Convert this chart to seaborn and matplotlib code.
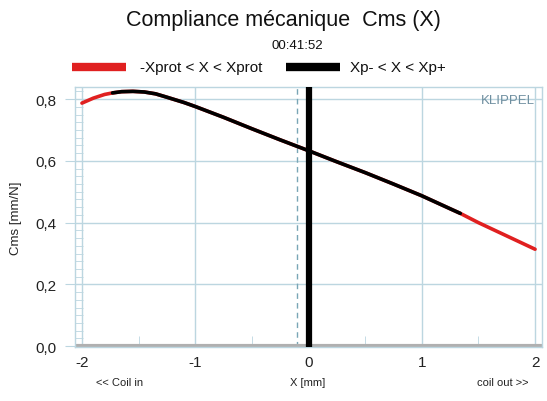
import matplotlib
matplotlib.use("Agg")
import matplotlib.pyplot as plt
import seaborn as sns
import pandas as pd
from matplotlib.ticker import MultipleLocator, FuncFormatter

sns.set_style("white")
plt.rcParams['font.family'] = ['Liberation Sans', 'DejaVu Sans']

# Data
x_vals = [-2.0, -1.9, -1.8, -1.73, -1.65, -1.55, -1.45, -1.35, -1.25, -1.1,
          -1.0, -0.75, -0.5, -0.25, 0.0, 0.25, 0.5, 0.75, 1.0, 1.25,
          1.34, 1.5, 1.75, 2.0]
cms_vals = [0.787, 0.803, 0.815, 0.820, 0.824, 0.825, 0.823, 0.817, 0.806, 0.789,
            0.776, 0.741, 0.704, 0.668, 0.633, 0.597, 0.562, 0.525, 0.487, 0.445,
            0.430, 0.400, 0.357, 0.314]
xp_minus = -1.73
xp_plus = 1.34
x_rest = -0.10
x_ticks = [-2, -1, 0, 1, 2]
y_ticks = [0.0, 0.2, 0.4, 0.6, 0.8]
legend_labels = ["-Xprot < X < Xprot", "Xp- < X < Xp+"]

df = pd.DataFrame({"x": x_vals, "cms": cms_vals})
dfb = df[(df.x >= xp_minus) & (df.x <= xp_plus)]

fig = plt.figure(figsize=(5.47, 4.02), dpi=100)
ax = fig.add_axes([0.137, 0.134, 0.854, 0.647])

grid_c = "#bcd6e0"
ax.set_xlim(-2.062, 2.062)
ax.set_ylim(-0.003, 0.839)
for t in x_ticks:
    ax.axvline(t, color=grid_c, lw=1.0, zorder=0)
for t in y_ticks[1:]:
    ax.axhline(t, color=grid_c, lw=1.0, zorder=0)

ax.axvline(x_rest, color="#79a6b6", lw=1.0, ls=(0, (4, 3)), zorder=1)

sns.lineplot(data=df, x="x", y="cms", ax=ax, color="#e02020", lw=2.6, zorder=3)
sns.lineplot(data=dfb, x="x", y="cms", ax=ax, color="black", lw=2.6, zorder=4)
ax.axvline(0, color="black", lw=4.5, zorder=5)
ax.axhline(0, color="#b0b0b0", lw=3, zorder=2)

ax.set_xticks(x_ticks)
ax.set_yticks(y_ticks)
ax.xaxis.set_minor_locator(MultipleLocator(0.5))
ax.yaxis.set_minor_locator(MultipleLocator(0.025))
fmt = FuncFormatter(lambda v, p: f"{v:.1f}".replace(".", ","))
ax.yaxis.set_major_formatter(fmt)
ax.xaxis.set_major_formatter(FuncFormatter(lambda v, p: f"{int(round(v))}"))
ax.tick_params(axis="both", which="major", labelsize=11, length=0, colors="#222222")
ax.tick_params(axis="x", which="major", pad=6)
ax.tick_params(axis="y", which="minor", direction="in", length=6, color=grid_c, left=True)
ax.tick_params(axis="x", which="minor", direction="in", length=8, color=grid_c, bottom=True)
ax.tick_params(axis="y", which="major", left=True, length=7, direction="out", color=grid_c, pad=6)
for s in ax.spines.values():
    s.set_color(grid_c)
    s.set_linewidth(1.0)

ax.set_xlabel("")
ax.set_ylabel("Cms [mm/N]", fontsize=9.5, color="#222222", labelpad=10)

ax.text(0.985, 0.975, "KLIPPEL", transform=ax.transAxes, ha="right", va="top",
        fontsize=9.5, color="#6f8fa0")

fig.text(0.518, 0.950, "Compliance mécanique  Cms (X)", ha="center", va="center",
         fontsize=15.5, color="#111111")
fig.text(0.543, 0.885, "00:41:52", ha="center", va="center", fontsize=9.5, color="#111111")

# legend row
ax_leg = fig.add_axes([0, 0.80, 1, 0.06])
ax_leg.set_axis_off()
ax_leg.set_xlim(0, 547)
ax_leg.set_ylim(0, 1)
ax_leg.plot([72, 126], [0.5, 0.5], color="#e02020", lw=6, solid_capstyle="butt")
ax_leg.text(140, 0.5, legend_labels[0], va="center", ha="left", fontsize=11, color="#111111")
ax_leg.plot([286, 340], [0.5, 0.5], color="black", lw=6, solid_capstyle="butt")
ax_leg.text(350, 0.5, legend_labels[1], va="center", ha="left", fontsize=11, color="#111111")

fig.text(120 / 547, 1 - 383 / 402, "<< Coil in", ha="center", va="center", fontsize=8, color="#222222")
fig.text(308 / 547, 1 - 383 / 402, "X [mm]", ha="center", va="center", fontsize=8, color="#222222")
fig.text(503 / 547, 1 - 383 / 402, "coil out >>", ha="center", va="center", fontsize=8, color="#222222")

fig.savefig("out.png", dpi=100)
